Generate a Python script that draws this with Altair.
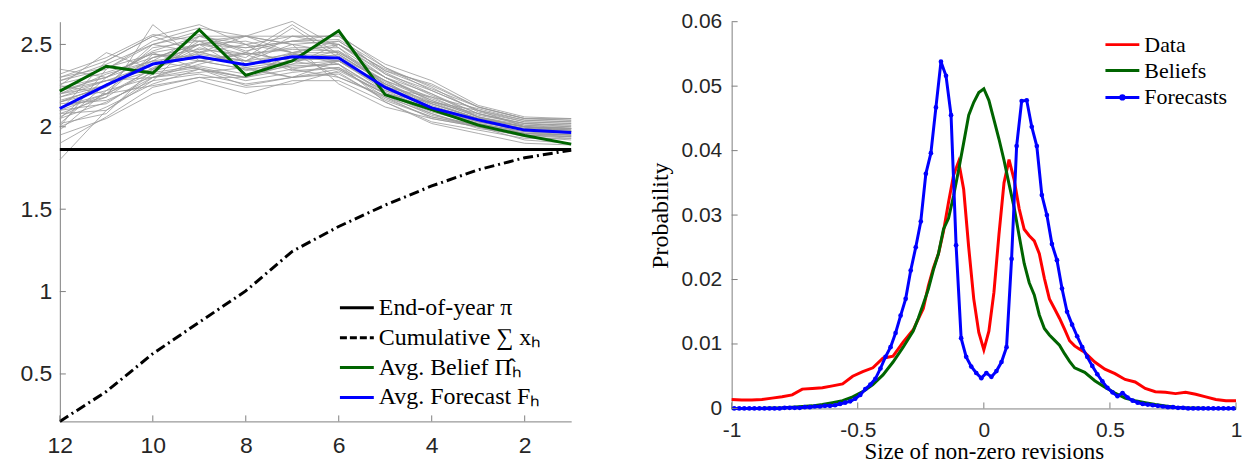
import altair as alt
import pandas as pd

# ---------------- Left panel data ----------------
months = [12, 11, 10, 9, 8, 7, 6, 5, 4, 3, 2, 1]
end_of_year_pi = 1.862
cumulative_x = [0.212, 0.393, 0.623, 0.814, 1.004, 1.244, 1.395, 1.525, 1.641, 1.739, 1.812, 1.858]
avg_belief = [2.217, 2.368, 2.326, 2.589, 2.312, 2.400, 2.583, 2.194, 2.105, 2.010, 1.947, 1.895]
avg_forecast = [2.111, 2.253, 2.381, 2.425, 2.377, 2.425, 2.417, 2.239, 2.115, 2.042, 1.980, 1.966]

sim_paths = [
    [2.22, 2.30, 2.45, 2.50, 2.48, 2.52, 2.50, 2.30, 2.20, 2.08, 2.02, 2.00],
    [2.05, 2.15, 2.30, 2.40, 2.35, 2.38, 2.40, 2.25, 2.12, 2.05, 2.00, 1.98],
    [2.15, 2.25, 2.40, 2.55, 2.45, 2.40, 2.35, 2.20, 2.15, 2.10, 2.03, 2.02],
    [1.80, 2.10, 2.30, 2.35, 2.30, 2.45, 2.45, 2.28, 2.18, 2.06, 1.95, 1.93],
    [2.30, 2.40, 2.55, 2.62, 2.50, 2.45, 2.50, 2.35, 2.25, 2.12, 2.05, 2.04],
    [2.10, 2.20, 2.25, 2.30, 2.30, 2.35, 2.30, 2.18, 2.05, 2.00, 1.94, 1.92],
    [2.00, 2.35, 2.50, 2.45, 2.40, 2.55, 2.55, 2.32, 2.22, 2.10, 2.00, 1.97],
    [2.25, 2.45, 2.35, 2.50, 2.55, 2.50, 2.45, 2.30, 2.15, 2.05, 1.98, 1.96],
    [2.12, 2.18, 2.62, 2.40, 2.35, 2.30, 2.40, 2.22, 2.10, 2.02, 1.97, 1.95],
    [2.18, 2.28, 2.35, 2.45, 2.55, 2.64, 2.48, 2.25, 2.12, 2.04, 1.99, 1.98],
    [2.35, 2.30, 2.40, 2.35, 2.25, 2.30, 2.35, 2.20, 2.08, 2.00, 1.92, 1.90],
    [2.08, 2.10, 2.28, 2.55, 2.55, 2.45, 2.38, 2.15, 2.02, 1.96, 1.90, 1.89],
    [2.20, 2.25, 2.48, 2.52, 2.40, 2.50, 2.26, 2.12, 2.05, 2.00, 1.96, 1.95],
    [1.95, 2.05, 2.20, 2.28, 2.20, 2.28, 2.28, 2.15, 2.03, 1.98, 1.93, 1.93],
    [2.28, 2.35, 2.52, 2.60, 2.55, 2.55, 2.55, 2.38, 2.28, 2.13, 2.06, 2.05],
    [2.15, 2.22, 2.30, 2.38, 2.45, 2.40, 2.44, 2.26, 2.15, 2.08, 2.01, 1.99],
    [2.05, 2.30, 2.45, 2.35, 2.30, 2.38, 2.50, 2.33, 2.20, 2.06, 2.00, 1.99],
    [2.25, 2.20, 2.35, 2.48, 2.42, 2.60, 2.42, 2.28, 2.10, 2.03, 1.98, 1.97],
    [2.10, 2.40, 2.55, 2.45, 2.50, 2.35, 2.40, 2.24, 2.18, 2.11, 2.04, 2.03],
    [2.00, 2.12, 2.26, 2.35, 2.28, 2.33, 2.36, 2.18, 2.08, 1.99, 1.95, 1.94],
    [2.18, 2.25, 2.38, 2.42, 2.38, 2.42, 2.40, 2.26, 2.13, 2.04, 1.99, 1.98],
    [2.26, 2.33, 2.42, 2.47, 2.44, 2.47, 2.46, 2.30, 2.17, 2.07, 2.02, 2.01],
    [2.12, 2.20, 2.33, 2.37, 2.32, 2.37, 2.38, 2.21, 2.10, 2.02, 1.97, 1.96],
    [2.02, 2.08, 2.35, 2.52, 2.48, 2.52, 2.53, 2.36, 2.24, 2.09, 2.03, 2.02],
    [2.22, 2.28, 2.30, 2.33, 2.36, 2.30, 2.33, 2.16, 2.06, 2.01, 1.96, 1.94],
    [1.98, 2.22, 2.42, 2.50, 2.52, 2.45, 2.52, 2.34, 2.23, 2.12, 2.05, 2.05],
    [2.30, 2.36, 2.44, 2.40, 2.45, 2.62, 2.44, 2.27, 2.14, 2.05, 2.00, 1.99],
    [2.15, 2.25, 2.50, 2.58, 2.38, 2.45, 2.30, 2.19, 2.07, 2.01, 1.96, 1.95],
    [2.20, 2.32, 2.40, 2.44, 2.40, 2.44, 2.43, 2.28, 2.16, 2.06, 2.01, 2.00],
    [2.08, 2.18, 2.36, 2.46, 2.36, 2.40, 2.42, 2.24, 2.12, 2.03, 1.98, 1.97],
    [2.24, 2.30, 2.46, 2.55, 2.50, 2.55, 2.50, 2.32, 2.19, 2.08, 2.02, 2.01],
    [2.14, 2.16, 2.28, 2.32, 2.26, 2.30, 2.32, 2.17, 2.06, 2.00, 1.95, 1.94],
    [2.02, 2.26, 2.34, 2.40, 2.44, 2.34, 2.36, 2.22, 2.14, 2.05, 2.00, 1.99],
    [2.28, 2.38, 2.50, 2.56, 2.46, 2.52, 2.56, 2.36, 2.22, 2.10, 2.04, 2.03],
    [2.16, 2.24, 2.42, 2.50, 2.44, 2.48, 2.48, 2.30, 2.16, 2.06, 2.00, 1.99],
    [2.10, 2.14, 2.32, 2.36, 2.30, 2.44, 2.40, 2.23, 2.11, 2.03, 1.98, 1.97],
    [1.90, 2.06, 2.24, 2.30, 2.24, 2.26, 2.34, 2.20, 2.09, 2.02, 1.96, 1.95],
    [2.32, 2.42, 2.56, 2.52, 2.55, 2.50, 2.52, 2.34, 2.26, 2.12, 2.05, 2.04],
    [2.20, 2.28, 2.38, 2.50, 2.34, 2.40, 2.46, 2.26, 2.14, 2.05, 2.00, 1.98],
    [2.06, 2.20, 2.44, 2.42, 2.40, 2.36, 2.38, 2.20, 2.10, 2.04, 1.99, 1.97],
]

left_x_ticks = [12, 10, 8, 6, 4, 2]
left_y_ticks = [0.5, 1, 1.5, 2, 2.5]
left_legend_labels = ["End-of-year \u03c0", "Cumulative \u2211 x\u2095",
                      "Avg. Belief \u03a0\u0302\u2095", "Avg. Forecast F\u2095"]

# ---------------- Right panel data ----------------
fc_x = [round(-0.99 + 0.02 * i, 2) for i in range(100)]
fc_y = [0.0000, 0.0000, 0.0000, 0.0000, 0.0000, 0.0000, 0.0000, 0.0000, 0.0000, 0.0000,
        0.0001, 0.0001, 0.0001, 0.0001, 0.0002, 0.0002, 0.0003, 0.0003, 0.0004, 0.0004,
        0.0005, 0.0007, 0.0009, 0.0011, 0.0015, 0.0021, 0.0030, 0.0037, 0.0046, 0.0062,
        0.0080, 0.0095, 0.0117, 0.0144, 0.0170, 0.0214, 0.0250, 0.0290, 0.0364, 0.0396,
        0.0467, 0.0538, 0.0516, 0.0455, 0.0253, 0.0109, 0.0080, 0.0065, 0.0055, 0.0047,
        0.0055, 0.0049, 0.0058, 0.0072, 0.0095, 0.0232, 0.0407, 0.0477, 0.0478, 0.0437,
        0.0407, 0.0331, 0.0300, 0.0255, 0.0230, 0.0186, 0.0150, 0.0130, 0.0112, 0.0095,
        0.0080, 0.0066, 0.0053, 0.0042, 0.0032, 0.0025, 0.0019, 0.0024, 0.0017, 0.0012,
        0.0009, 0.0007, 0.0006, 0.0005, 0.0004, 0.0003, 0.0002, 0.0002, 0.0001, 0.0001,
        0.0000, 0.0000, 0.0000, 0.0000, 0.0000, 0.0000, 0.0000, 0.0000, 0.0000, 0.0000]

data_x = [-1.00, -0.96, -0.92, -0.88, -0.84, -0.80, -0.76, -0.72, -0.68, -0.64, -0.60, -0.56,
          -0.52, -0.48, -0.44, -0.40, -0.36, -0.32, -0.28, -0.24, -0.22, -0.20, -0.18, -0.16,
          -0.14, -0.12, -0.10, -0.08, -0.06, -0.04, -0.02, 0.00, 0.02, 0.04, 0.06, 0.08, 0.10,
          0.12, 0.14, 0.16, 0.18, 0.20, 0.22, 0.24, 0.26, 0.28, 0.30, 0.32, 0.34, 0.36, 0.38,
          0.40, 0.44, 0.48, 0.52, 0.56, 0.60, 0.64, 0.68, 0.72, 0.76, 0.80, 0.84, 0.88, 0.92,
          0.96, 1.00]
data_y = [0.0014, 0.0013, 0.0013, 0.0014, 0.0016, 0.0018, 0.0021, 0.0030, 0.0031, 0.0032, 0.0035, 0.0038,
          0.0050, 0.0057, 0.0063, 0.0078, 0.0081, 0.0103, 0.0122, 0.0155, 0.0190, 0.0218, 0.0240, 0.0275,
          0.0320, 0.0362, 0.0383, 0.0340, 0.0250, 0.0170, 0.0118, 0.0091, 0.0120, 0.0180, 0.0270, 0.0350, 0.0386,
          0.0355, 0.0310, 0.0278, 0.0268, 0.0260, 0.0240, 0.0202, 0.0170, 0.0155, 0.0140, 0.0123, 0.0105, 0.0097, 0.0092,
          0.0087, 0.0072, 0.0061, 0.0054, 0.0045, 0.0041, 0.0031, 0.0026, 0.0025, 0.0023, 0.0025, 0.0022, 0.0018, 0.0014,
          0.0012, 0.0012]

belief_x = [-1.00, -0.90, -0.80, -0.76, -0.72, -0.68, -0.64, -0.60, -0.56, -0.52, -0.48, -0.44, -0.40,
            -0.36, -0.32, -0.28, -0.26, -0.24, -0.22, -0.20, -0.18, -0.16, -0.14, -0.12, -0.10, -0.08,
            -0.06, -0.04, -0.02, 0.00, 0.02, 0.04, 0.06, 0.08, 0.10, 0.12, 0.14, 0.16, 0.18, 0.20, 0.22,
            0.24, 0.26, 0.28, 0.30, 0.32, 0.34, 0.36, 0.40, 0.44, 0.48, 0.52, 0.56, 0.60, 0.64, 0.68,
            0.72, 0.76, 0.80, 0.90, 1.00]
belief_y = [0.0000, 0.0000, 0.0001, 0.0002, 0.0003, 0.0004, 0.0006, 0.0009, 0.0012, 0.0018, 0.0026, 0.0037, 0.0052,
            0.0072, 0.0095, 0.0120, 0.0140, 0.0162, 0.0185, 0.0215, 0.0240, 0.0278, 0.0295, 0.0330, 0.0370, 0.0412,
            0.0455, 0.0475, 0.0490, 0.0496, 0.0478, 0.0448, 0.0418, 0.0385, 0.0348, 0.0312, 0.0268, 0.0225, 0.0195, 0.0176, 0.0145,
            0.0124, 0.0114, 0.0106, 0.0098, 0.0085, 0.0073, 0.0063, 0.0056, 0.0043, 0.0033, 0.0024, 0.0016, 0.0012, 0.0009, 0.0006,
            0.0004, 0.0002, 0.0001, 0.0000, 0.0000]

right_x_ticks = [-1, -0.5, 0, 0.5, 1]
right_y_ticks = [0, 0.01, 0.02, 0.03, 0.04, 0.05, 0.06]
right_legend_labels = ["Data", "Beliefs", "Forecasts"]

# ---------------- Styling ----------------
GREEN = "#006400"
BLUE = "#0000ff"
RED = "#ff0000"
AXIS_GRAY = "#808080"
LABEL = "#262626"
SANS = "Liberation Sans"
SERIF = "Liberation Serif"
LABEL_EXPR = "replace(format(datum.value, '~g'), '\u2212', '-')"

LW, LH = 513, 401
RW, RH = 506, 388

one = pd.DataFrame({"k": [0]})


def legend_line(x1, x2, y, color, dash=None, width=3):
    kw = dict(color=color, strokeWidth=width)
    if dash is not None:
        kw["strokeDash"] = dash
    return alt.Chart(one).mark_rule(**kw).encode(
        x=alt.value(x1), x2=alt.value(x2), y=alt.value(y))


def legend_text(x, y, text, size):
    return alt.Chart(one).mark_text(
        text=text, align="left", baseline="middle", font=SERIF,
        fontSize=size, color="black").encode(x=alt.value(x), y=alt.value(y))


# ---------------- Left panel ----------------
lx_scale = alt.Scale(domain=[1, 12], reverse=True, nice=False, zero=False)
ly_scale = alt.Scale(domain=[0.212, 2.638], nice=False, zero=False)

lx_axis = alt.Axis(values=left_x_ticks, ticks=False, grid=False, title=None, labelFlush=False,
                   labelFont=SANS, labelFontSize=23, labelColor=LABEL, labelPadding=13,
                   domainColor=AXIS_GRAY, labelExpr=LABEL_EXPR)
ly_axis = alt.Axis(values=left_y_ticks, ticks=False, grid=False, title=None,
                   labelFont=SANS, labelFontSize=23, labelColor=LABEL, labelPadding=8,
                   domainColor=AXIS_GRAY, minExtent=52, maxExtent=52, labelExpr=LABEL_EXPR)

gray_df = pd.DataFrame([{"path": i, "month": m, "value": v}
                        for i, p in enumerate(sim_paths) for m, v in zip(months, p)])
main_df = pd.DataFrame({
    "month": months * 4,
    "value": [end_of_year_pi] * len(months) + cumulative_x + avg_belief + avg_forecast,
    "series": (["pi"] * 12 + ["cum"] * 12 + ["belief"] * 12 + ["forecast"] * 12),
})

X = alt.X("month:Q", scale=lx_scale, axis=lx_axis)
Y = alt.Y("value:Q", scale=ly_scale, axis=ly_axis)

gray = alt.Chart(gray_df).mark_line(color="#999999", strokeWidth=0.8).encode(
    x=X, y=Y, detail="path:N")


def series_line(name, color, dash=None):
    kw = dict(color=color, strokeWidth=3)
    if dash is not None:
        kw["strokeDash"] = dash
    return alt.Chart(main_df).transform_filter(
        alt.datum.series == name).mark_line(**kw).encode(x=X, y=Y)


pi_line = series_line("pi", "black")
cum_line = series_line("cum", "black", [10, 4, 2, 4])
belief_line = series_line("belief", GREEN)
fc_line = series_line("forecast", BLUE)

lyt = alt.Chart(pd.DataFrame({"value": left_y_ticks})).mark_rule(color=AXIS_GRAY).encode(
    y=Y, x=alt.value(0), x2=alt.value(6))
lxt = alt.Chart(pd.DataFrame({"month": left_x_ticks})).mark_rule(color=AXIS_GRAY).encode(
    x=X, y=alt.value(LH), y2=alt.value(LH - 6))

lleg = [
    legend_line(281, 315, 287, "black"),
    legend_line(281, 315, 317, "black", [7, 3]),
    legend_line(281, 315, 347, GREEN),
    legend_line(281, 315, 377, BLUE),
]
ltxt = [legend_text(320, 287 + 30 * i, lab, 24) for i, lab in enumerate(left_legend_labels)]

left = alt.layer(gray, pi_line, cum_line, belief_line, fc_line, lyt, lxt, *lleg, *ltxt
                 ).properties(width=LW, height=LH)

# ---------------- Right panel ----------------
rx_scale = alt.Scale(domain=[-1, 1], nice=False, zero=False)
ry_scale = alt.Scale(domain=[0, 0.06], nice=False, zero=False)
rx_axis = alt.Axis(values=right_x_ticks, ticks=False, grid=False, labelFlush=False,
                   title="Size of non-zero revisions", titleFont=SERIF, titleFontSize=23,
                   titleFontWeight="normal", titleColor="black", titlePadding=0,
                   labelFont=SANS, labelFontSize=21, labelColor=LABEL, labelPadding=11,
                   domainColor=AXIS_GRAY, labelExpr=LABEL_EXPR, labelOverlap=False)
ry_axis = alt.Axis(values=right_y_ticks, ticks=False, grid=False,
                   title="Probability", titleFont=SERIF, titleFontSize=24,
                   titleFontWeight="normal", titleColor="black", titlePadding=4,
                   labelFont=SANS, labelFontSize=21, labelColor=LABEL, labelPadding=10,
                   domainColor=AXIS_GRAY, minExtent=55, maxExtent=55, labelExpr=LABEL_EXPR)

rdf = pd.DataFrame({
    "x": data_x + belief_x + fc_x,
    "p": data_y + belief_y + fc_y,
    "series": ["Data"] * len(data_x) + ["Beliefs"] * len(belief_x) + ["Forecasts"] * len(fc_x),
})
RX = alt.X("x:Q", scale=rx_scale, axis=rx_axis)
RY = alt.Y("p:Q", scale=ry_scale, axis=ry_axis)

r_data = alt.Chart(rdf).transform_filter(alt.datum.series == "Data").mark_line(
    color=RED, strokeWidth=3).encode(x=RX, y=RY)
r_bel = alt.Chart(rdf).transform_filter(alt.datum.series == "Beliefs").mark_line(
    color=GREEN, strokeWidth=3).encode(x=RX, y=RY)
r_fc = alt.Chart(rdf).transform_filter(alt.datum.series == "Forecasts").mark_line(
    color=BLUE, strokeWidth=3,
    point=alt.OverlayMarkDef(filled=True, color=BLUE, size=22, opacity=1)).encode(x=RX, y=RY)

ryt = alt.Chart(pd.DataFrame({"p": right_y_ticks})).mark_rule(color=AXIS_GRAY).encode(
    y=RY, x=alt.value(0), x2=alt.value(6))
rxt = alt.Chart(pd.DataFrame({"x": right_x_ticks})).mark_rule(color=AXIS_GRAY).encode(
    x=RX, y=alt.value(RH), y2=alt.value(RH - 6))

rleg = [
    legend_line(375, 409, 23, RED),
    legend_line(375, 409, 49, GREEN),
    legend_line(375, 409, 76, BLUE),
    alt.Chart(one).mark_point(filled=True, color=BLUE, size=40, opacity=1).encode(
        x=alt.value(392), y=alt.value(76)),
]
rtxt = [legend_text(414, 23 + 26.5 * i, lab, 22) for i, lab in enumerate(right_legend_labels)]

right = alt.layer(r_data, r_bel, r_fc, ryt, rxt, *rleg, *rtxt).properties(width=RW, height=RH)

chart = alt.hconcat(left, right, spacing=72).properties(
    padding={"left": 0, "top": 2, "right": 0, "bottom": 0}
).configure_view(stroke=None)

chart.save("out.html", embed_options={"renderer": "svg", "actions": False})
